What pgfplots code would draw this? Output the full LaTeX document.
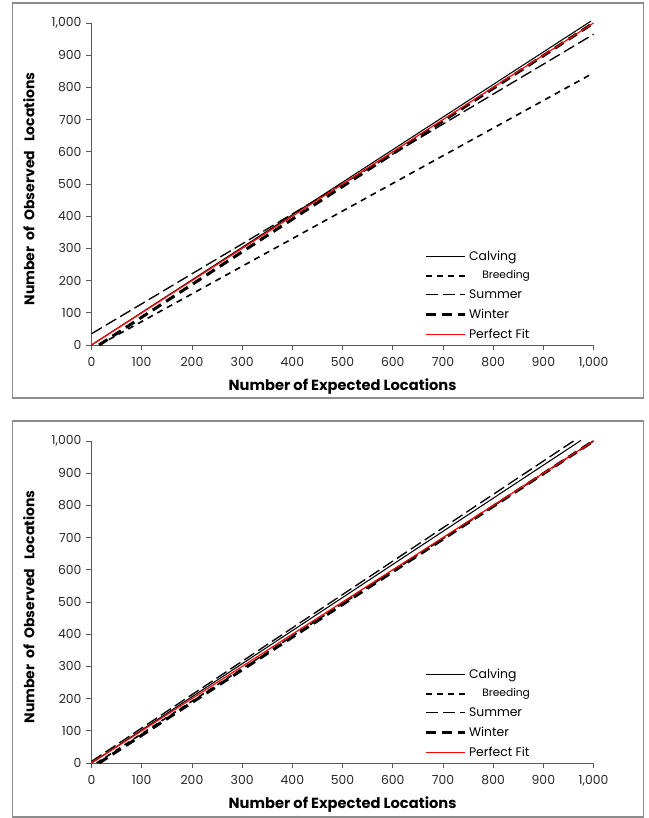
\documentclass[border=0pt]{standalone}
\usepackage{pgfplots}
\pgfplotsset{compat=1.18}
\usepackage{fontspec}
\setmainfont{Poppins}
\begin{document}
\pgfplotsset{
  rsaxis/.style={
    scale only axis,
    width=376.5pt, height=241.5pt,
    anchor=south west,
    xmin=0, xmax=1000, ymin=0, ymax=1000,
    axis x line=bottom, axis y line=left,
    axis line style={-, black!65, line width=0.6pt},
    xtick={0,100,...,1000}, ytick={0,100,...,1000},
    tick style={black!65, line width=0.6pt},
    tick align=outside,
    major tick length=4pt,
    /pgf/number format/assume math mode=true,
    /pgf/number format/1000 sep={,},
    tick label style={font=\fontsize{9.3}{11}\selectfont, text=black!85},
    xticklabel style={yshift=-1.5pt},
    xlabel={Number of Expected Locations},
    ylabel={Number\ \ of\ \ Observed\ \ \ Locations},
    xlabel style={font=\bfseries\fontsize{11}{13}\selectfont, at={(axis description cs:0.5,-0.13)}, anchor=center},
    ylabel style={font=\bfseries\fontsize{10.5}{12}\selectfont, at={(axis description cs:-0.125,0.485)}, anchor=center},
    clip=false,
    legend style={draw=none, fill=none, at={(axis description cs:0.663,0.302)}, anchor=north west,
      font=\fontsize{9.3}{11}\selectfont, row sep=2.4pt, inner sep=0pt},
    legend cell align=left,
    legend image code/.code={\draw[#1] (0pt,0pt) -- (29pt,0pt);},
  },
}
\begin{tikzpicture}
\useasboundingbox (0pt,0pt) rectangle (483.75pt,613.5pt);
\draw[black!45, line width=0.8pt] (6.75pt,315pt) rectangle (480pt,611.25pt);
\draw[black!45, line width=0.8pt] (6.75pt,0.75pt) rectangle (480pt,297.75pt);

\begin{axis}[rsaxis, at={(66pt,354.75pt)}]
\addplot[black, line width=0.8pt] coordinates {(0,0) (995,1006)};
\addlegendentry{Calving}
\addplot[black, line width=1.2pt, dash pattern=on 4.5pt off 3.8pt] coordinates {(15,0) (1000,845)};
\addlegendentry{\ \ \ \ \fontsize{8}{9}\selectfont Breeding}
\addplot[black, line width=1.0pt, dash pattern=on 9pt off 3.5pt] coordinates {(0,35) (1000,965)};
\addlegendentry{Summer}
\addplot[black, line width=2.3pt, dash pattern=on 7.5pt off 4.5pt] coordinates {(15,0) (1000,1000)};
\addlegendentry{Winter}
\addplot[color=red, line width=0.9pt] coordinates {(0,0) (1000,1000)};
\addlegendentry{Perfect Fit}
\end{axis}

\begin{axis}[rsaxis, at={(66pt,41.25pt)}]
\addplot[black, line width=0.8pt] coordinates {(0,0) (975,1002)};
\addlegendentry{Calving}
\addplot[black, line width=1.2pt, dash pattern=on 4.5pt off 3.8pt] coordinates {(10,0) (1000,1000)};
\addlegendentry{\ \ \ \ \fontsize{8}{9}\selectfont Breeding}
\addplot[black, line width=1.0pt, dash pattern=on 9pt off 3.5pt] coordinates {(0,5) (965,1005)};
\addlegendentry{Summer}
\addplot[black, line width=2.3pt, dash pattern=on 7.5pt off 4.5pt] coordinates {(15,0) (1000,1000)};
\addlegendentry{Winter}
\addplot[color=red, line width=0.9pt] coordinates {(0,0) (1000,1000)};
\addlegendentry{Perfect Fit}
\end{axis}
\end{tikzpicture}
\end{document}
